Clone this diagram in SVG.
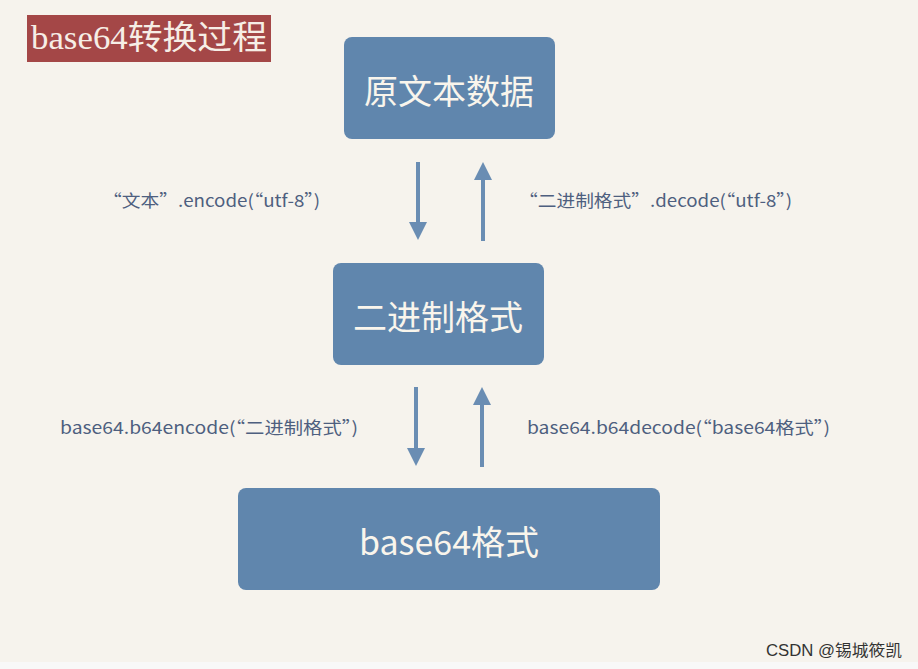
<svg xmlns="http://www.w3.org/2000/svg" width="918" height="669" viewBox="0 0 918 669">
<style>
.box{fill:#6086ad}
.bt{fill:#f9f5ec;font-family:"Noto Sans CJK SC","Noto Sans",sans-serif;font-size:34px;text-anchor:middle}
.lbl{fill:#4e5f7f;font-family:"Noto Sans CJK SC","Liberation Sans",sans-serif;font-size:17px}
.ln{stroke:#6a8db3;stroke-width:4;fill:none}
.hd{fill:#6a8db3}
</style>
<rect x="0" y="0" width="918" height="669" fill="#f6f3ed"/>
<rect x="0" y="662" width="918" height="7" fill="#f8f8f8"/>
<g id="title">
<rect x="27" y="15" width="244" height="47" fill="#a44747"/>
<text x="31" y="49" font-family="'Liberation Serif','Noto Sans CJK SC',serif" font-size="33" fill="#f6eee6" textLength="236" lengthAdjust="spacingAndGlyphs">base64转换过程</text>
</g>
<g id="n1">
<rect class="box" x="344" y="37" width="211" height="102" rx="8"/>
<text class="bt" x="449" y="104">原文本数据</text>
</g>
<g id="n2">
<rect class="box" x="333" y="263" width="211" height="102" rx="8"/>
<text class="bt" x="438" y="330">二进制格式</text>
</g>
<g id="n3">
<rect class="box" x="238" y="488" width="422" height="102" rx="8"/>
<text class="bt" x="449" y="555">base64格式</text>
</g>
<g id="connectors">
<line class="ln" x1="418" y1="162" x2="418" y2="224"/>
<polygon class="hd" points="409,222 427,222 418,240"/>
<line class="ln" x1="483" y1="178" x2="483" y2="241"/>
<polygon class="hd" points="474,180 492,180 483,162"/>
<line class="ln" x1="416" y1="387" x2="416" y2="450"/>
<polygon class="hd" points="407,448 425,448 416,466"/>
<line class="ln" x1="482" y1="403" x2="482" y2="467"/>
<polygon class="hd" points="473,405 491,405 482,387"/>
</g>
<g id="labels">
<text class="lbl" x="103" y="207" textLength="217" lengthAdjust="spacingAndGlyphs">“文本”.encode(“utf-8”)</text>
<text class="lbl" x="519" y="207" textLength="273" lengthAdjust="spacingAndGlyphs">“二进制格式”.decode(“utf-8”)</text>
<text class="lbl" x="60" y="434" textLength="298" lengthAdjust="spacingAndGlyphs">base64.b64encode(“二进制格式”)</text>
<text class="lbl" x="527" y="434" textLength="303" lengthAdjust="spacingAndGlyphs">base64.b64decode(“base64格式”)</text>
</g>
<text x="766" y="656" font-family="'Liberation Sans','Noto Sans CJK SC',sans-serif" font-size="16" fill="#333333" textLength="136" lengthAdjust="spacingAndGlyphs">CSDN @锡城筱凯</text>
</svg>
